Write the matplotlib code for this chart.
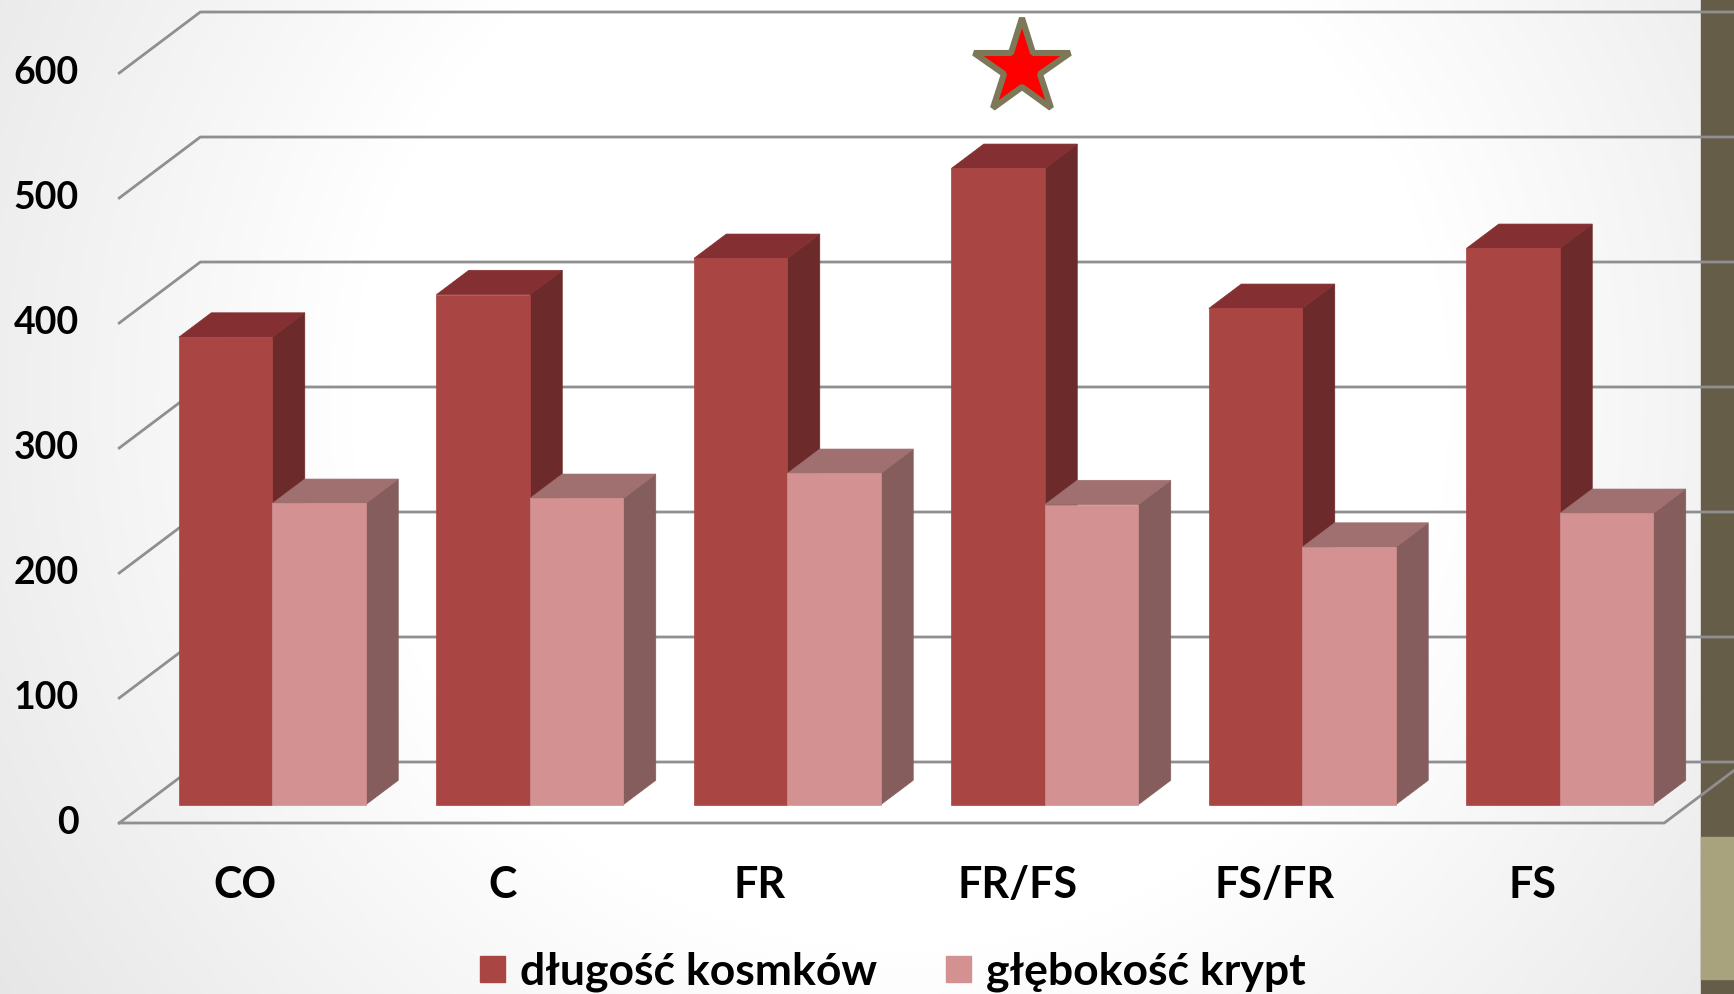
import numpy as np
import matplotlib.pyplot as plt
from matplotlib.patches import Polygon, Rectangle, Patch

plt.rcParams['font.family'] = ['Lato', 'DejaVu Sans']

# data
categories = ['CO', 'C', 'FR', 'FR/FS', 'FS/FR', 'FS']
villus_len = [374, 408, 437, 509, 397, 445]
crypt_depth = [241, 245, 265, 240, 206, 233]
series_names = ['długość kosmków', 'głębokość krypt']
y_ticks = [0, 100, 200, 300, 400, 500, 600]
star_cat = 3      # FR/FS marked as significant
star_val = 604

# fake 3d look (excel style)
dx = 0.315    # depth shift in category units
dy = 48.8     # depth shift in value units
bar_w = 0.363
z0, z1 = 0.3, 0.7

face = {0: ('#a94542', '#842f31', '#6d2a2a'),
        1: ('#d39191', '#a06f6f', '#845d5c')}
grid_c = '#8f8f8f'


def proj(x, v, d):
    return (x + d * dx, v + d * dy)


fig = plt.figure(figsize=(17.34, 9.94), dpi=100)

# soft grey background gradient
bg = fig.add_axes([0, 0, 1, 1], zorder=-1)
yy, xx = np.mgrid[0:994:4, 0:1734:4]
r = np.hypot(xx - 900, yy - 400)
g = 1 - 0.1 * np.clip((r - 550) / 550, 0, 1)
bg.imshow(np.dstack([g, g, g]), extent=[0, 1, 0, 1], aspect='auto')
bg.axis('off')

ax = fig.add_axes([0, 0, 1, 1])
ax.patch.set_visible(False)
ax.set_xlim(-0.9631, 5.771)
ax.set_ylim(-136.8, 658.4)
ax.axis('off')

# slide side panel
ax.add_patch(Rectangle((1701 / 1734, 0), 1, 1, transform=ax.transAxes,
                       color='#655d47', zorder=0.5))
ax.add_patch(Rectangle((1701 / 1734, 15 / 994), 1, 142 / 994,
                       transform=ax.transAxes, color='#a8a37d', zorder=0.6))

# walls / gridlines
left = -0.5
right = len(categories) - 0.5
for v in y_ticks:
    p0 = proj(left, v, 0)
    p1 = proj(left, v, 1)
    ax.plot([p0[0], p1[0], 7], [p0[1], p1[1], p1[1]], color=grid_c,
            lw=2, zorder=1, solid_joinstyle='miter')
    ax.text(-0.656, v, str(v), ha='right', va='center', fontsize=27,
            fontweight='bold')
f0 = proj(right, 0, 0)
f1 = proj(right, 0, 1)
ax.plot([left, f0[0], f1[0]], [0, f0[1], f1[1]], color=grid_c, lw=2,
        zorder=1)

# bars
for i in range(len(categories)):
    for s, vals in enumerate([villus_len, crypt_depth]):
        v = vals[i]
        x0 = i - bar_w + s * bar_w
        x1 = x0 + bar_w
        fc, tc, sc = face[s]
        front = [proj(x0, 0, z0), proj(x1, 0, z0), proj(x1, v, z0), proj(x0, v, z0)]
        top = [proj(x0, v, z0), proj(x1, v, z0), proj(x1, v, z1), proj(x0, v, z1)]
        side = [proj(x1, 0, z0), proj(x1, 0, z1), proj(x1, v, z1), proj(x1, v, z0)]
        for poly, c in [(side, sc), (top, tc), (front, fc)]:
            ax.add_patch(Polygon(poly, closed=True, facecolor=c, edgecolor=c,
                                 lw=0.5, zorder=2))
    ax.text(i - 0.012, -49.6, categories[i], ha='center', va='center',
            fontsize=31, fontweight='bold')

# significance star
ax.plot([star_cat + 0.006], [star_val], marker='*', ms=72, mfc='#ff0000',
        mec='#7d7858', mew=4.4, zorder=3)

handles = [Patch(color=face[0][0]), Patch(color=face[1][0])]
fig.legend(handles, series_names, loc='center', bbox_to_anchor=(893 / 1734, 22 / 994),
           ncol=2, frameon=False, prop={'weight': 'bold', 'size': 32},
           handlelength=0.55, handleheight=0.55, handletextpad=0.35,
           columnspacing=1.55)

fig.savefig('out.png', dpi=100)
